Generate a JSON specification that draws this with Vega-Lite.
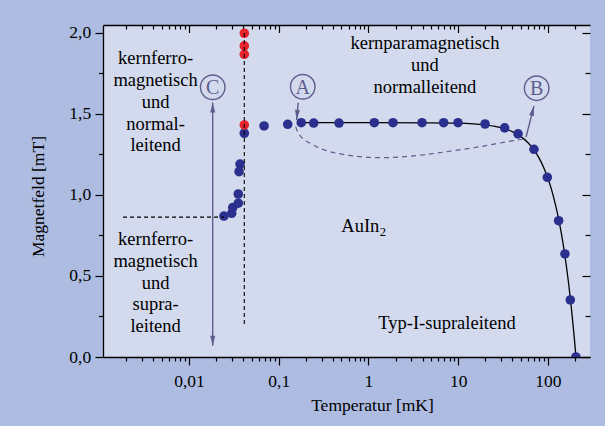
{
  "$schema": "https://vega.github.io/schema/vega-lite/v6.json",
  "width": 487,
  "height": 332,
  "autosize": {"type": "none"},
  "padding": {"left": 103, "top": 25, "right": 15, "bottom": 69},
  "background": "#adbce0",
  "config": {
    "view": {"fill": "#d3daee", "stroke": null},
    "font": "Liberation Serif",
    "axis": {
      "grid": false,
      "domainColor": "black",
      "tickColor": "black",
      "labelColor": "black",
      "titleColor": "black",
      "labelFont": "Liberation Serif",
      "titleFont": "Liberation Serif",
      "labelFontSize": 17.5,
      "titleFontSize": 17.5,
      "titleFontWeight": "normal",
      "domainWidth": 1.3,
      "tickWidth": 1.2,
      "labelFlush": false,
      "labelOverlap": false,
      "labelBound": false
    }
  },
  "datasets": {
    "blue": [
      {"T": 0.0245, "H": 0.870},
      {"T": 0.0299, "H": 0.887},
      {"T": 0.0307, "H": 0.922},
      {"T": 0.0354, "H": 0.949},
      {"T": 0.0354, "H": 1.006},
      {"T": 0.0361, "H": 1.144},
      {"T": 0.0370, "H": 1.191},
      {"T": 0.0413, "H": 1.381},
      {"T": 0.0686, "H": 1.426},
      {"T": 0.1258, "H": 1.436},
      {"T": 0.178, "H": 1.446},
      {"T": 0.245, "H": 1.444},
      {"T": 0.469, "H": 1.444},
      {"T": 1.16, "H": 1.446},
      {"T": 1.875, "H": 1.446},
      {"T": 3.95, "H": 1.446},
      {"T": 6.88, "H": 1.446},
      {"T": 9.93, "H": 1.446},
      {"T": 19.9, "H": 1.438},
      {"T": 32.9, "H": 1.414},
      {"T": 46.4, "H": 1.377},
      {"T": 69.8, "H": 1.282},
      {"T": 98.4, "H": 1.109},
      {"T": 131.5, "H": 0.841},
      {"T": 154.5, "H": 0.636},
      {"T": 177.3, "H": 0.352},
      {"T": 205, "H": 0.0}
    ],
    "red": [
      {"T": 0.0413, "H": 1.998},
      {"T": 0.0413, "H": 1.920},
      {"T": 0.0413, "H": 1.868},
      {"T": 0.0413, "H": 1.432}
    ],
    "curve": [
      {"T": 0.178, "H": 1.446},
      {"T": 1, "H": 1.446},
      {"T": 5, "H": 1.445},
      {"T": 10, "H": 1.443},
      {"T": 20, "H": 1.432},
      {"T": 30, "H": 1.415},
      {"T": 40, "H": 1.391},
      {"T": 50, "H": 1.360},
      {"T": 60, "H": 1.322},
      {"T": 70, "H": 1.277},
      {"T": 80, "H": 1.226},
      {"T": 90, "H": 1.167},
      {"T": 100, "H": 1.102},
      {"T": 110, "H": 1.030},
      {"T": 120, "H": 0.950},
      {"T": 130, "H": 0.865},
      {"T": 140, "H": 0.772},
      {"T": 150, "H": 0.672},
      {"T": 160, "H": 0.565},
      {"T": 170, "H": 0.452},
      {"T": 180, "H": 0.331},
      {"T": 190, "H": 0.204},
      {"T": 200, "H": 0.070},
      {"T": 205, "H": 0.0}
    ],
    "dashcurve": [
      {"T": 0.1545, "H": 1.422},
      {"T": 0.1653, "H": 1.381},
      {"T": 0.2427, "H": 1.309},
      {"T": 0.572, "H": 1.247},
      {"T": 1.343, "H": 1.230},
      {"T": 3.155, "H": 1.241},
      {"T": 7.43, "H": 1.267},
      {"T": 17.47, "H": 1.298},
      {"T": 41.0, "H": 1.335},
      {"T": 55.5, "H": 1.346}
    ],
    "dashrules": [
      {"T": 0.0413, "H": 2.0, "T2": 0.0413, "H2": 0.187},
      {"T": 0.00184, "H": 0.863, "T2": 0.0245, "H2": 0.863}
    ],
    "arrows": [
      {"T": 0.01836, "H": 1.57, "T2": 0.01836, "H2": 0.07},
      {"T": 0.165, "H": 1.57, "T2": 0.158, "H2": 1.463},
      {"T": 56.9, "H": 1.356, "T2": 69.8, "H2": 1.549}
    ],
    "circles": [
      {"T": 0.01836, "H": 1.665, "txt": "C"},
      {"T": 0.185, "H": 1.668, "txt": "A"},
      {"T": 74.8, "H": 1.659, "txt": "B"}
    ],
    "blocks": [
      {"T": 0.00424, "H": 1.807, "txt": "kernferro-\nmagnetisch\nund\nnormal-\nleitend"},
      {"T": 0.00424, "H": 0.691, "txt": "kernferro-\nmagnetisch\nund\nsupra-\nleitend"},
      {"T": 4.26, "H": 1.899, "txt": "kernparamagnetisch\nund\nnormalleitend"},
      {"T": 7.49, "H": 0.171, "txt": "Typ-I-supraleitend"}
    ]
  },
  "encoding": {
    "x": {"field": "T", "type": "quantitative", "scale": {"type": "log", "domain": [0.0011, 294], "nice": false}, "axis": null},
    "y": {"field": "H", "type": "quantitative", "scale": {"domain": [0, 2.049], "nice": false, "zero": false}, "axis": null}
  },
  "layer": [
    {
      "data": {"name": "dashcurve"},
      "mark": {"type": "line", "interpolate": "monotone", "color": "#5e5e8c", "strokeWidth": 1.2, "strokeDash": [5, 4]}
    },
    {
      "data": {"name": "curve"},
      "mark": {"type": "line", "interpolate": "monotone", "color": "black", "strokeWidth": 1.3},
      "encoding": {
        "x": {"field": "T", "type": "quantitative", "scale": {"type": "log", "domain": [0.0011, 294], "nice": false},
          "axis": {"orient": "top", "values": [0.01, 0.1, 1, 10, 100], "tickSize": -7.5, "labels": false, "domain": true, "title": null}},
        "y": {"field": "H", "type": "quantitative", "scale": {"domain": [0, 2.049], "nice": false, "zero": false},
          "axis": {"orient": "right", "values": [0, 0.5, 1, 1.5, 2], "tickSize": -8, "labels": false, "domain": false, "title": null}}
      }
    },
    {
      "data": {"name": "arrows"},
      "mark": {"type": "rule", "color": "#5e5e8c", "strokeWidth": 1.4},
      "encoding": {"x2": {"field": "T2"}, "y2": {"field": "H2"}}
    },
    {
      "data": {"values": [{"T": 0.01836, "H": 1.57}]},
      "mark": {"type": "point", "shape": "M0,0L-0.5,2L0.5,2Z", "filled": true, "color": "#5e5e8c", "opacity": 1, "size": 100, "angle": 0}
    },
    {
      "data": {"values": [{"T": 0.01836, "H": 0.07}]},
      "mark": {"type": "point", "shape": "M0,0L-0.5,2L0.5,2Z", "filled": true, "color": "#5e5e8c", "opacity": 1, "size": 100, "angle": 180}
    },
    {
      "data": {"values": [{"T": 0.158, "H": 1.463}]},
      "mark": {"type": "point", "shape": "M0,0L-0.5,2L0.5,2Z", "filled": true, "color": "#5e5e8c", "opacity": 1, "size": 100, "angle": 185}
    },
    {
      "data": {"values": [{"T": 69.8, "H": 1.549}]},
      "mark": {"type": "point", "shape": "M0,0L-0.5,2L0.5,2Z", "filled": true, "color": "#5e5e8c", "opacity": 1, "size": 100, "angle": 14}
    },
    {
      "data": {"name": "circles"},
      "mark": {"type": "point", "shape": "circle", "filled": false, "color": "#5e5e8c", "strokeWidth": 1.4, "opacity": 1, "size": 600}
    },
    {
      "data": {"name": "circles"},
      "mark": {"type": "text", "font": "Liberation Serif", "fontSize": 20, "color": "#5e5e8c", "align": "center", "baseline": "middle", "dy": 1},
      "encoding": {"text": {"field": "txt"}}
    },
    {
      "data": {"name": "blue"},
      "mark": {"type": "point", "shape": "circle", "filled": true, "color": "#2b2f8e", "opacity": 1, "size": 92, "clip": true},
      "encoding": {
        "x": {"field": "T", "type": "quantitative", "scale": {"type": "log", "domain": [0.0011, 294], "nice": false},
          "axis": {"orient": "bottom", "values": [0.01, 0.1, 1, 10, 100], "tickSize": 8, "labelExpr": "replace(toString(datum.value), '.', ',')", "labelBaseline": "alphabetic", "labelPadding": 21.7,
            "title": "Temperatur [mK]", "titleX": 269, "titleY": 53, "titleBaseline": "alphabetic", "titleAlign": "center", "titleAnchor": null}},
        "y": {"field": "H", "type": "quantitative", "scale": {"domain": [0, 2.049], "nice": false, "zero": false},
          "axis": {"orient": "left", "values": [0, 0.5, 1, 1.5, 2], "tickSize": 8, "labelExpr": "replace(format(datum.value, '.1f'), '.', ',')", "labelPadding": 4.3,
            "title": "Magnetfeld [mT]", "titleX": -60, "titleY": 171, "titleAngle": 270, "titleBaseline": "alphabetic", "titleAlign": "center", "titleAnchor": null}}
      }
    },
    {
      "data": {"name": "red"},
      "mark": {"type": "point", "shape": "circle", "filled": true, "color": "#e8232b", "opacity": 1, "size": 92},
      "encoding": {
        "x": {"field": "T", "type": "quantitative", "scale": {"type": "log", "domain": [0.0011, 294], "nice": false},
          "axis": {"orient": "bottom", "values": [0.002, 0.003, 0.004, 0.005, 0.006, 0.007, 0.008, 0.009, 0.02, 0.03, 0.04, 0.05, 0.06, 0.07, 0.08, 0.09, 0.2, 0.3, 0.4, 0.5, 0.6, 0.7, 0.8, 0.9, 2, 3, 4, 5, 6, 7, 8, 9, 20, 30, 40, 50, 60, 70, 80, 90, 200], "tickSize": 4, "labels": false, "domain": false, "title": null}},
        "y": {"field": "H", "type": "quantitative", "scale": {"domain": [0, 2.049], "nice": false, "zero": false},
          "axis": {"orient": "left", "values": [0.25, 0.75, 1.25, 1.75], "tickSize": 4.5, "labels": false, "domain": false, "title": null}}
      }
    },
    {
      "data": {"name": "dashrules"},
      "mark": {"type": "rule", "color": "black", "strokeWidth": 1.1, "strokeDash": [4, 3]},
      "encoding": {
        "x": {"field": "T", "type": "quantitative", "scale": {"type": "log", "domain": [0.0011, 294], "nice": false},
          "axis": {"orient": "top", "values": [0.002, 0.003, 0.004, 0.005, 0.006, 0.007, 0.008, 0.009, 0.02, 0.03, 0.04, 0.05, 0.06, 0.07, 0.08, 0.09, 0.2, 0.3, 0.4, 0.5, 0.6, 0.7, 0.8, 0.9, 2, 3, 4, 5, 6, 7, 8, 9, 20, 30, 40, 50, 60, 70, 80, 90, 200], "tickSize": -4, "labels": false, "domain": false, "title": null}},
        "y": {"field": "H", "type": "quantitative", "scale": {"domain": [0, 2.049], "nice": false, "zero": false},
          "axis": {"orient": "right", "values": [0.25, 0.75, 1.25, 1.75], "tickSize": -5, "labels": false, "domain": false, "title": null}},
        "x2": {"field": "T2"},
        "y2": {"field": "H2"}
      }
    },
    {
      "data": {"name": "blocks"},
      "mark": {"type": "text", "font": "Liberation Serif", "fontSize": 18.5, "color": "black", "align": "center", "baseline": "alphabetic", "lineBreak": "\n", "lineHeight": 21.8},
      "encoding": {"text": {"field": "txt"}}
    },
    {
      "data": {"values": [{"T": 1.32, "H": 0.770, "txt": "AuIn"}]},
      "mark": {"type": "text", "font": "Liberation Serif", "fontSize": 18.5, "color": "black", "align": "right", "baseline": "alphabetic"},
      "encoding": {"text": {"field": "txt"}}
    },
    {
      "data": {"values": [{"T": 1.32, "H": 0.745, "txt": "2"}]},
      "mark": {"type": "text", "font": "Liberation Serif", "fontSize": 12.5, "color": "black", "align": "left", "baseline": "alphabetic", "dx": 0.5},
      "encoding": {"text": {"field": "txt"}}
    }
  ],
  "resolve": {"axis": {"x": "independent", "y": "independent"}}
}
